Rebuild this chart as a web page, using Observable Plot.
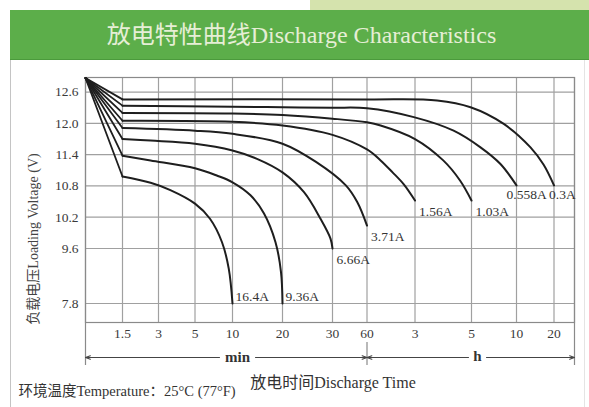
<!DOCTYPE html>
<html><head><meta charset="utf-8">
<script src="https://cdn.jsdelivr.net/npm/d3@7"></script>
<script src="https://cdn.jsdelivr.net/npm/@observablehq/plot@0.6"></script>
<style>
body{margin:0;background:#fff;}
#wrap{position:relative;width:589px;height:407px;overflow:hidden;background:#fff;}
#strip{position:absolute;left:310px;top:0;width:279px;height:10px;background:#d5e3ad;}
#title{position:absolute;left:10px;top:10px;width:579px;height:49px;background:#5cae4a;border-bottom:1px solid #4b9a3c;color:#e6eed6;font-family:'Liberation Serif','Noto Sans CJK SC',serif;font-size:24px;line-height:51px;text-align:center;text-indent:4px;}
#box{position:absolute;left:10px;top:60px;width:573px;height:347px;border-left:1px solid #c4c4c4;border-right:1px solid #e4e4e4;pointer-events:none;}
#chart{position:absolute;left:0;top:60px;}
</style></head>
<body><div id="wrap"><div id="strip"></div><div id="title">放电特性曲线Discharge Characteristics</div><div id="chart"></div><div id="box"></div></div>
<script>
// ---- data (time in minutes, voltage in V) ----
const seriesNames = ["0.3A","0.558A","1.03A","1.56A","3.71A","6.66A","9.36A","16.4A"];
const curve_0_3A   = [[0,12.87],[1.5,12.46],[60,12.46],[227,12.44],[298,12.31],[515,11.99],[824,11.54],[1032,11.21],[1200,10.81]];
const curve_0_558A = [[0,12.87],[1.5,12.34],[10,12.32],[20,12.31],[30,12.30],[60,12.29],[177,12.12],[262,11.86],[360,11.54],[493,11.22],[600,10.81]];
const curve_1_03A  = [[0,12.87],[1.5,12.20],[10,12.19],[20,12.16],[30,12.09],[60,12.02],[94,11.96],[180,11.70],[240,11.29],[276,10.90],[300,10.52]];
const curve_1_56A  = [[0,12.87],[1.5,12.05],[10,12.03],[20,11.96],[30,11.78],[60,11.50],[94,11.29],[124,11.06],[152,10.83],[180,10.52]];
const curve_3_71A  = [[0,12.87],[1.5,11.91],[5,11.86],[10,11.80],[20,11.61],[26.7,11.26],[41.6,10.81],[51.5,10.49],[60,10.04]];
const curve_6_66A  = [[0,12.87],[1.5,11.70],[2.67,11.67],[5,11.61],[10,11.48],[14.9,11.32],[20,11.06],[24.3,10.68],[27.6,10.17],[29.6,9.79],[30,9.60]];
const curve_9_36A  = [[0,12.87],[1.5,11.38],[2.67,11.29],[5,11.14],[7.9,11.00],[10,10.87],[13.6,10.62],[16.3,10.27],[18.6,9.72],[19.7,8.83],[20,7.80]];
const curve_16_4A  = [[0,12.87],[1.5,10.98],[2.67,10.86],[3.65,10.72],[5,10.46],[7,10.17],[8.6,9.72],[9.5,8.94],[10,7.80]];
const curves = [curve_0_3A, curve_0_558A, curve_1_03A, curve_1_56A, curve_3_71A, curve_6_66A, curve_9_36A, curve_16_4A];

const xTickValues = [1.5,3,5,10,20,30,60,180,300,600,1200];
const xTickLabels = ["1.5","3","5","10","20","30","60","3","5","10","20"];
const yTickValues = [7.8,9.6,10.2,10.8,11.4,12.0,12.6];
const yTickLabels = ["7.8","9.6","10.2","10.8","11.4","12.0","12.6"];

// ---- scale layout (piecewise axes as printed) ----
const xBreaks = [0,1.5,3,5,10,20,30,60,180,300,600,1200,1540];
const xRangePx = [85,122,158,194.5,232,282,332,366.5,414.5,471,516,553.5,574];
const yBreaks = [7.2,7.8,9.6,12.88];
const yRangePx = [262,243,188,17];

const rows = seriesNames.flatMap((name, k) => curves[k].map(([t, v], i) => ({name, t, v, i})));
const ends = seriesNames.map((name, k) => { const c = curves[k]; const [t, v] = c[c.length - 1]; return {name, t, v}; });
const yMin = yBreaks[0];
const tMin = 0, tDiv = 60, tEnd = xBreaks[xBreaks.length - 1];
const minLabelT = 11, hLabelT = 340;

const serif = "'Liberation Serif','Noto Sans CJK SC',serif";
const lab = (names, dx, dy) => Plot.text(ends.filter(d => names.includes(d.name)),
  {x: "t", y: "v", text: "name", textAnchor: "start", dx, dy, fontSize: 13.5, fill: "#333"});

const chart = Plot.plot({
  width: 589, height: 347,
  marginLeft: 85, marginRight: 15, marginTop: 17, marginBottom: 85,
  style: {background: "none", fontFamily: serif, fontSize: "13.5px", color: "#3a3a3a"},
  x: {type: "linear", domain: xBreaks, range: xRangePx, ticks: xTickValues,
      tickFormat: d => xTickLabels[xTickValues.indexOf(d)], tickSize: 0, tickPadding: 6, label: null},
  y: {type: "linear", domain: yBreaks, range: yRangePx, ticks: yTickValues,
      tickFormat: d => yTickLabels[yTickValues.indexOf(d)], tickSize: 0, tickPadding: 7, label: null},
  marks: [
    Plot.ruleX(xTickValues, {stroke: "#a0a0a0", strokeWidth: 1.2}),
    Plot.ruleY(yTickValues, {stroke: "#a0a0a0", strokeWidth: 1.2}),
    Plot.frame({stroke: "#8a8a8a", strokeWidth: 1.2}),
    Plot.ruleX([tMin, tEnd], {stroke: "#8a8a8a", strokeWidth: 1.2, insetBottom: -43}),
    Plot.ruleX([tDiv], {stroke: "#8a8a8a", strokeWidth: 1.2, insetTop: 265, insetBottom: -43}),
    Plot.line(rows.filter(d => d.i <= 1), {x: "t", y: "v", z: "name", stroke: "#1e1e1e", strokeWidth: 1.8}),
    Plot.line(rows.filter(d => d.i >= 1), {x: "t", y: "v", z: "name", curve: "catmull-rom", stroke: "#1e1e1e", strokeWidth: 2}),
    lab(["16.4A","9.36A"], 3, -7),
    lab(["6.66A","3.71A","1.56A","1.03A"], 4, 11),
    lab(["0.558A"], -10, 9),
    lab(["0.3A"], -5, 9),
    // dimension line under the time axis
    Plot.arrow([[minLabelT, tMin], [minLabelT, tDiv]], {x1: d => d[0], x2: d => d[1], y1: () => yMin, y2: () => yMin, dy: 35,
      insetStart: 18, headLength: 7, headAngle: 40, stroke: "#444", strokeWidth: 1.1}),
    Plot.arrow([[hLabelT, tDiv], [hLabelT, tEnd]], {x1: d => d[0], x2: d => d[1], y1: () => yMin, y2: () => yMin, dy: 35,
      insetStart: 9, headLength: 7, headAngle: 40, stroke: "#444", strokeWidth: 1.1}),
    Plot.text(["min"], {x: () => minLabelT, y: () => yMin, dy: 35, text: d => d, fontWeight: "bold", fontSize: 15, fill: "#333"}),
    Plot.text(["h"], {x: () => hLabelT, y: () => yMin, dy: 34, text: d => d, fontWeight: "bold", fontSize: 15, fill: "#333"}),
    Plot.text(["负载电压Loading Voltage (V)"], {frameAnchor: "left", textAnchor: "middle", lineAnchor: "middle", rotate: -90, dx: -52, dy: 39, fontSize: 14, fill: "#444"}),
    Plot.text(["放电时间Discharge Time"], {frameAnchor: "bottom", textAnchor: "middle", lineAnchor: "middle", dx: 3, dy: 60, fontSize: 16, fill: "#333"}),
    Plot.text(["环境温度Temperature：25°C (77°F)"], {frameAnchor: "bottom-left", textAnchor: "start", lineAnchor: "middle", dx: -67, dy: 69, fontSize: 14.5, fill: "#333"})
  ]
});
document.getElementById("chart").appendChild(chart);
</script>
</body></html>
